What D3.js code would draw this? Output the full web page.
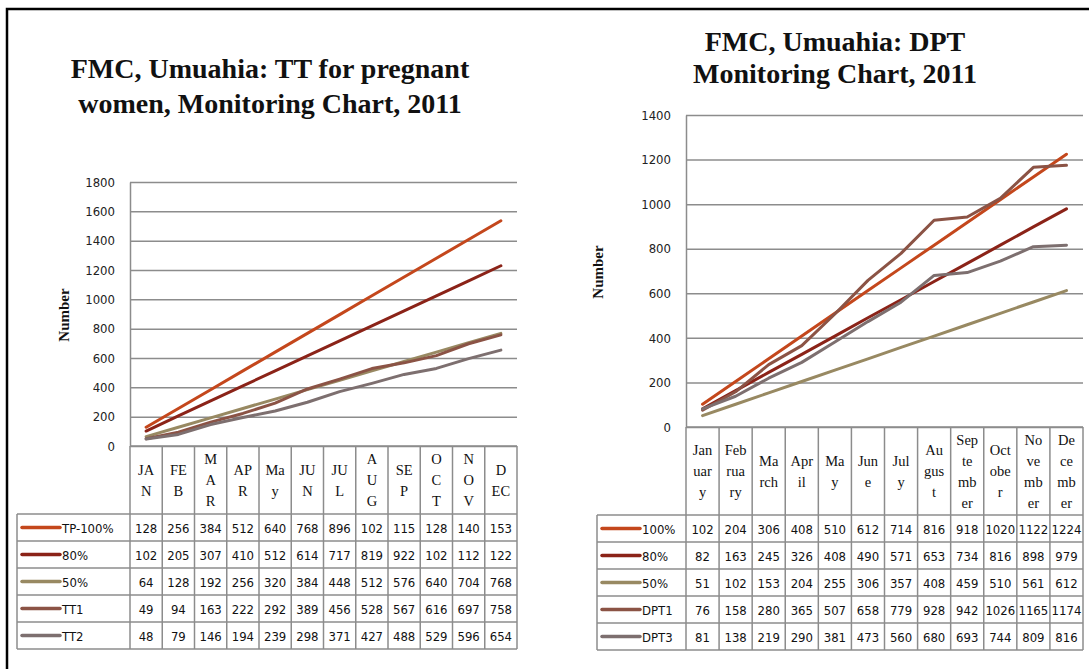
<!DOCTYPE html>
<html>
<head>
<meta charset="utf-8">
<script src="https://cdn.jsdelivr.net/npm/d3@7"></script>
<style>
  body { margin: 0; background: #fff; }
  svg { display: block; }
</style>
</head>
<body>
<script>
// ---- data: TT for pregnant women ----
const ttMonths = ['JAN', 'FEB', 'MAR', 'APR', 'May', 'JUN', 'JUL', 'AUG', 'SEP', 'OCT', 'NOV', 'DEC'];
const ttMonthLines = [['JA', 'N'], ['FE', 'B'], ['M', 'A', 'R'], ['AP', 'R'], ['Ma', 'y'], ['JU', 'N'],
  ['JU', 'L'], ['A', 'U', 'G'], ['SE', 'P'], ['O', 'C', 'T'], ['N', 'O', 'V'], ['D', 'EC']];
const ttNames = ['TP-100%', '80%', '50%', 'TT1', 'TT2'];
const tt100 = [128, 256, 384, 512, 640, 768, 896, 1024, 1152, 1280, 1408, 1536];
const tt80 = [102, 205, 307, 410, 512, 614, 717, 819, 922, 1024, 1126, 1229];
const tt50 = [64, 128, 192, 256, 320, 384, 448, 512, 576, 640, 704, 768];
const tt1 = [49, 94, 163, 222, 292, 389, 456, 528, 567, 616, 697, 758];
const tt2 = [48, 79, 146, 194, 239, 298, 371, 427, 488, 529, 596, 654];
const ttTicks = [0, 200, 400, 600, 800, 1000, 1200, 1400, 1600, 1800];

// ---- data: DPT ----
const dptMonths = ['January', 'February', 'March', 'April', 'May', 'June', 'July', 'August',
  'September', 'October', 'November', 'December'];
const dptMonthLines = [['Jan', 'uar', 'y'], ['Feb', 'rua', 'ry'], ['Ma', 'rch'], ['Apr', 'il'], ['Ma', 'y'],
  ['Jun', 'e'], ['Jul', 'y'], ['Au', 'gus', 't'], ['Sep', 'te', 'mb', 'er'], ['Oct', 'obe', 'r'],
  ['No', 've', 'mb', 'er'], ['De', 'ce', 'mb', 'er']];
const dptNames = ['100%', '80%', '50%', 'DPT1', 'DPT3'];
const dpt100 = [102, 204, 306, 408, 510, 612, 714, 816, 918, 1020, 1122, 1224];
const dpt80 = [82, 163, 245, 326, 408, 490, 571, 653, 734, 816, 898, 979];
const dpt50 = [51, 102, 153, 204, 255, 306, 357, 408, 459, 510, 561, 612];
const dpt1 = [76, 158, 280, 365, 507, 658, 779, 928, 942, 1026, 1165, 1174];
const dpt3 = [81, 138, 219, 290, 381, 473, 560, 680, 693, 744, 809, 816];
const dptTicks = [0, 200, 400, 600, 800, 1000, 1200, 1400];

const colors = ['#c4471c', '#8b2318', '#988962', '#8b5345', '#7d6f6f'];
const serif = '"Liberation Serif", "DejaVu Serif", serif';
const sans = '"DejaVu Sans Condensed", "DejaVu Sans", sans-serif';
const gridColor = '#8c8c8c';

const svg = d3.select('body').append('svg')
  .attr('width', 1089)
  .attr('height', 669);

// outer frame (top and left only visible)
svg.append('path')
  .attr('d', 'M7,669 V9 H1089')
  .attr('fill', 'none')
  .attr('stroke', '#000')
  .attr('stroke-width', 2.5);

function drawChart(cfg) {
  const g = svg.append('g');

  // title
  g.append('text')
    .attr('x', cfg.titleX)
    .attr('text-anchor', 'middle')
    .style('font-family', serif)
    .style('font-weight', 'bold')
    .style('font-size', cfg.titleSize + 'px')
    .style('fill', '#111')
    .selectAll('tspan')
    .data(cfg.title)
    .enter().append('tspan')
    .attr('x', cfg.titleX)
    .attr('y', (d, i) => cfg.titleY[i])
    .text(d => d);

  const x = d3.scaleBand()
    .domain(cfg.months)
    .range([cfg.x0, cfg.x1]);

  const y = d3.scaleLinear()
    .domain([0, d3.max(cfg.ticks)])
    .range([cfg.yBottom, cfg.yTop]);

  // gridlines + tick labels
  const axis = g.append('g')
    .attr('transform', `translate(${cfg.x0},0)`)
    .call(d3.axisLeft(y)
      .tickValues(cfg.ticks)
      .tickFormat(d3.format('d'))
      .tickSize(-(cfg.x1 - cfg.x0))
      .tickSizeOuter(0)
      .tickPadding(15));
  axis.selectAll('.tick line')
    .attr('stroke', gridColor)
    .attr('stroke-width', 1.5);
  axis.select('.domain')
    .attr('stroke', gridColor)
    .attr('stroke-width', 1.5);
  axis.selectAll('.tick text')
    .style('font-family', sans)
    .style('font-size', '13px')
    .style('fill', '#222');

  // y title
  g.append('text')
    .attr('transform', `translate(${cfg.yTitleX},${cfg.yTitleY}) rotate(-90)`)
    .attr('text-anchor', 'middle')
    .attr('dominant-baseline', 'central')
    .style('font-family', serif)
    .style('font-weight', 'bold')
    .style('font-size', '15px')
    .style('fill', '#111')
    .text('Number');

  // series lines
  const line = d3.line()
    .x((d, i) => x(cfg.months[i]) + x.bandwidth() / 2)
    .y(d => y(d));

  g.selectAll('.series')
    .data(cfg.series)
    .enter().append('path')
    .attr('class', 'series')
    .attr('d', d => line(d))
    .attr('fill', 'none')
    .attr('stroke', (d, i) => colors[i])
    .attr('stroke-width', 3)
    .attr('stroke-linejoin', 'round')
    .attr('stroke-linecap', 'round');

  // ---- data table ----
  const hTop = cfg.yBottom;
  const hBottom = cfg.headerBottom;
  const rowH = cfg.rowH;
  const nRows = cfg.series.length;
  const tBottom = hBottom + rowH * nRows;
  const table = g.append('g')
    .attr('stroke', gridColor)
    .attr('stroke-width', 1.5);

  // horizontal lines
  table.append('line')
    .attr('x1', cfg.x0).attr('x2', cfg.x1)
    .attr('y1', hTop).attr('y2', hTop);
  d3.range(nRows + 1).forEach(r => {
    table.append('line')
      .attr('x1', cfg.legendX0).attr('x2', cfg.x1)
      .attr('y1', hBottom + r * rowH).attr('y2', hBottom + r * rowH);
  });
  // vertical lines
  table.append('line')
    .attr('x1', cfg.legendX0).attr('x2', cfg.legendX0)
    .attr('y1', hBottom).attr('y2', tBottom);
  cfg.months.forEach(m => {
    table.append('line')
      .attr('x1', x(m)).attr('x2', x(m))
      .attr('y1', hTop).attr('y2', tBottom);
  });
  table.append('line')
    .attr('x1', cfg.x1).attr('x2', cfg.x1)
    .attr('y1', hTop).attr('y2', tBottom);

  // header: month names, wrapped
  const hMid = (hTop + hBottom) / 2;
  cfg.monthLines.forEach((lines, i) => {
    const cx = x(cfg.months[i]) + x.bandwidth() / 2;
    g.append('text')
      .attr('text-anchor', 'middle')
      .style('font-family', serif)
      .style('font-size', '14.5px')
      .style('fill', '#111')
      .selectAll('tspan')
      .data(lines)
      .enter().append('tspan')
      .attr('x', cx)
      .attr('y', (d, k) => hMid + (k - (lines.length - 1) / 2) * 21 + 5)
      .text(d => d);
  });

  // rows: legend key + values
  cfg.series.forEach((vals, r) => {
    const cy = hBottom + r * rowH + rowH / 2;
    g.append('line')
      .attr('x1', cfg.legendX0 + 5).attr('x2', cfg.legendX0 + 43)
      .attr('y1', cy).attr('y2', cy)
      .attr('stroke', colors[r])
      .attr('stroke-width', 3.5)
      .attr('stroke-linecap', 'round');
    g.append('text')
      .attr('x', cfg.legendX0 + 45)
      .attr('y', cy + 5)
      .style('font-family', sans)
      .style('font-size', '13px')
      .style('fill', '#111')
      .text(cfg.names[r]);
    g.selectAll(null)
      .data(vals)
      .enter().append('text')
      .attr('x', (d, i) => x(cfg.months[i]) + x.bandwidth() / 2)
      .attr('y', cy + 5)
      .attr('text-anchor', 'middle')
      .style('font-family', sans)
      .style('font-size', '13px')
      .style('fill', '#111')
      .text(d => cfg.cellText(d));
  });
}

drawChart({
  title: ['FMC, Umuahia: TT for pregnant', 'women, Monitoring Chart, 2011'],
  titleX: 270, titleY: [78, 113], titleSize: 28,
  months: ttMonths, monthLines: ttMonthLines,
  names: ttNames,
  series: [tt100, tt80, tt50, tt1, tt2],
  ticks: ttTicks,
  x0: 130, x1: 517, yTop: 182, yBottom: 446,
  yTitleX: 64, yTitleY: 315,
  headerBottom: 514, rowH: 27, legendX0: 17,
  // cells too narrow for four digits: the last digit is cut off
  cellText: d => String(d).slice(0, 3)
});

drawChart({
  title: ['FMC, Umuahia: DPT', 'Monitoring Chart, 2011'],
  titleX: 835, titleY: [51, 83], titleSize: 28,
  months: dptMonths, monthLines: dptMonthLines,
  names: dptNames,
  series: [dpt100, dpt80, dpt50, dpt1, dpt3],
  ticks: dptTicks,
  x0: 686, x1: 1083, yTop: 115, yBottom: 427,
  yTitleX: 598, yTitleY: 272,
  headerBottom: 515, rowH: 27, legendX0: 597,
  cellText: d => String(d)
});
</script>
</body>
</html>
